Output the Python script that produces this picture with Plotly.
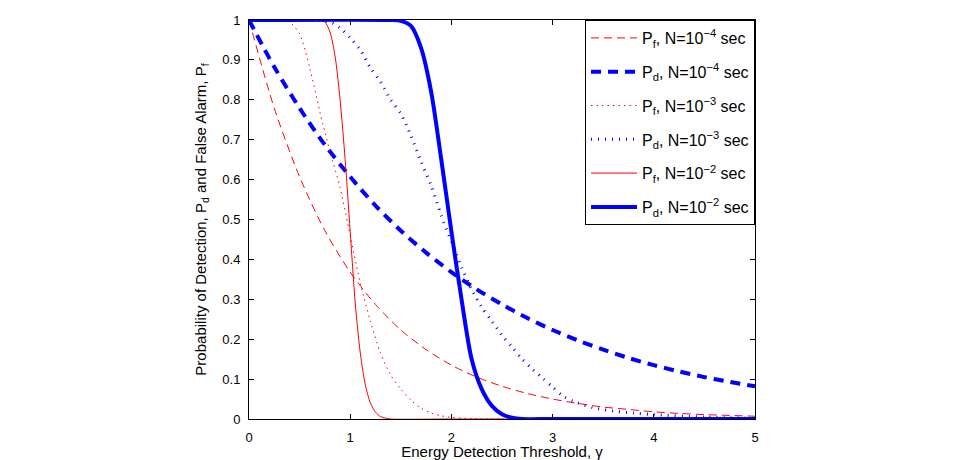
import plotly.graph_objects as go

# ---- data ----
gamma_exp = [0, 0.25, 0.5, 0.75, 1.0, 1.25, 1.5, 1.75, 2.0, 2.25, 2.5,
             2.75, 3.0, 3.25, 3.5, 3.75, 4.0, 4.25, 4.5, 4.75, 5.0]
pf_n4 = [1.0, 0.779, 0.607, 0.472, 0.368, 0.287, 0.223, 0.174, 0.135, 0.105, 0.082,
         0.064, 0.050, 0.039, 0.030, 0.024, 0.018, 0.014, 0.011, 0.009, 0.007]
pd_n4 = [1.0, 0.882, 0.779, 0.687, 0.607, 0.535, 0.472, 0.417, 0.368, 0.325, 0.287,
         0.253, 0.223, 0.197, 0.174, 0.153, 0.135, 0.119, 0.105, 0.093, 0.082]

gamma_pf_n3 = [0, 0.3, 0.4, 0.5, 0.6, 0.7, 0.8, 0.9, 1.0, 1.1, 1.2, 1.3, 1.4, 1.5,
               1.6, 1.7, 1.8, 1.9, 2.0, 2.2, 2.5, 5.0]
pf_n3 = [1.0, 1.0, 0.995, 0.965, 0.88, 0.77, 0.67, 0.58, 0.46, 0.34, 0.245, 0.165, 0.11, 0.075,
         0.047, 0.027, 0.015, 0.008, 0.004, 0.001, 0.0, 0.0]

gamma_pd_n3 = [0, 0.6, 0.8, 0.9, 1.0, 1.1, 1.2, 1.3, 1.4, 1.5, 1.6, 1.7, 1.8, 1.9, 2.0,
               2.1, 2.2, 2.3, 2.4, 2.5, 2.6, 2.7, 2.8, 2.9, 3.0, 3.1, 3.2, 3.4, 3.6,
               3.8, 4.0, 4.5, 5.0]
pd_n3 = [1.0, 1.0, 0.995, 0.98, 0.955, 0.925, 0.88, 0.845, 0.8, 0.765, 0.71, 0.645, 0.585,
         0.51, 0.445, 0.38, 0.325, 0.28, 0.245, 0.21, 0.18, 0.15, 0.125, 0.103, 0.08,
         0.058, 0.045, 0.028, 0.02, 0.015, 0.011, 0.005, 0.002]

gamma_pf_n2 = [0, 0.5, 0.7, 0.75, 0.8, 0.85, 0.9, 0.95, 1.0, 1.05, 1.1, 1.15, 1.2,
               1.25, 1.3, 1.35, 1.4, 2.0, 3.0, 4.0, 5.0]
pf_n2 = [1.0, 1.0, 0.999, 0.995, 0.97, 0.91, 0.80, 0.65, 0.47, 0.29, 0.165, 0.085, 0.04,
         0.017, 0.006, 0.002, 0.0, 0.0, 0.0, 0.0, 0.0]

gamma_pd_n2 = [0, 1.4, 1.5, 1.6, 1.7, 1.8, 1.9, 2.0, 2.1, 2.2, 2.3, 2.4, 2.5, 2.6,
               2.7, 3.0, 4.0, 5.0]
pd_n2 = [1.0, 1.0, 0.998, 0.985, 0.93, 0.82, 0.65, 0.47, 0.30, 0.15, 0.075, 0.033, 0.012,
         0.003, 0.0, 0.0, 0.0, 0.0]

x_ticks = [0, 1, 2, 3, 4, 5]
y_ticks = [0, 0.1, 0.2, 0.3, 0.4, 0.5, 0.6, 0.7, 0.8, 0.9, 1]

names = [
    "P<sub>f</sub>, N=10<sup>\u22124</sup> sec",
    "P<sub>d</sub>, N=10<sup>\u22124</sup> sec",
    "P<sub>f</sub>, N=10<sup>\u22123</sup> sec",
    "P<sub>d</sub>, N=10<sup>\u22123</sup> sec",
    "P<sub>f</sub>, N=10<sup>\u22122</sup> sec",
    "P<sub>d</sub>, N=10<sup>\u22122</sup> sec",
]

RED = "#ff0000"
BLUE = "#0000ff"
FONT = "Liberation Sans, Arial, Helvetica, sans-serif"

series = [
    (gamma_exp, pf_n4, RED, 1, "8px,5px"),
    (gamma_exp, pd_n4, BLUE, 4, "10px,7px"),
    (gamma_pf_n3, pf_n3, RED, 1, "1.5px,4px"),
    (gamma_pd_n3, pd_n3, BLUE, 3, "1px,6px"),
    (gamma_pf_n2, pf_n2, RED, 1, "solid"),
    (gamma_pd_n2, pd_n2, BLUE, 4, "solid"),
]

fig = go.Figure()
for i, (xs, ys, col, w, dash) in enumerate(series):
    fig.add_trace(go.Scatter(
        x=xs, y=ys, mode="lines", name=names[i], legendgroup=f"g{i}",
        line=dict(color=col, width=w, dash=dash, shape="spline", smoothing=0.8),
    ))

axis_common = dict(
    showline=True, linecolor="black", linewidth=1, mirror="ticks",
    ticks="inside", ticklen=5, tickcolor="black", tickwidth=1,
    showgrid=False, zeroline=False,
    tickfont=dict(family=FONT, size=13, color="black"),
)

fig.update_xaxes(range=[0, 5], tickvals=x_ticks, ticklabelstandoff=6,
                 title=dict(text="Energy Detection Threshold, \u03b3",
                            font=dict(family=FONT, size=15, color="black"), standoff=4),
                 **axis_common)
fig.update_yaxes(range=[0, 1], tickvals=y_ticks, ticklabelstandoff=5,
                 title=dict(text="Probability of Detection, P<sub>d</sub> and False Alarm, P<sub>f</sub>",
                            font=dict(family=FONT, size=15, color="black"), standoff=12),
                 **axis_common)

fig.update_layout(
    width=962, height=460,
    margin=dict(l=249, r=207, t=20, b=41, autoexpand=False),
    plot_bgcolor="white", paper_bgcolor="white",
    font=dict(family=FONT, color="black"),
    legend=dict(x=1, y=1, xanchor="right", yanchor="top",
                bgcolor="white", bordercolor="black", borderwidth=1,
                font=dict(family=FONT, size=16, color="black"),
                tracegroupgap=10, itemwidth=46),
)

fig.write_html("out.html")
